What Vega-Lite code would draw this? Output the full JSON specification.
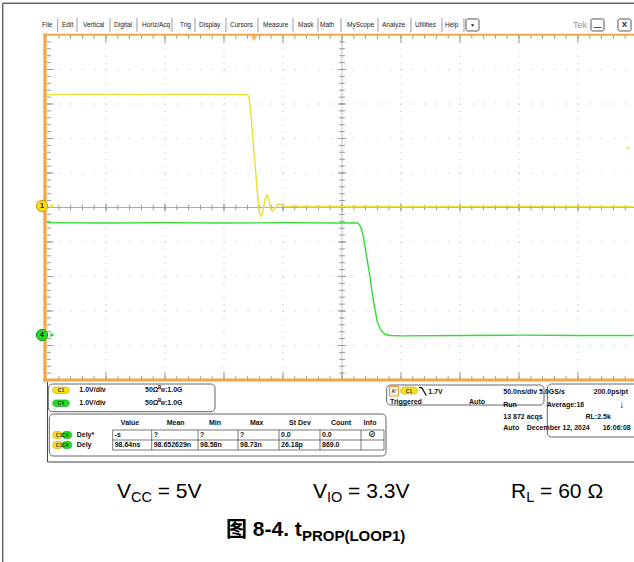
{
"$schema": "https://vega.github.io/schema/vega-lite/v6.json",
"width": 634, "height": 562, "padding": 0, "autosize": {"type": "none"},
"background": "white",
"config": {"view": {"stroke": null}, "text": {"font": "Liberation Sans, Noto Sans CJK SC"}},
"datasets": {
"tminor": [{"t":10},{"t":20},{"t":30},{"t":40},{"t":50},{"t":60},{"t":70},{"t":80},{"t":90},{"t":100},{"t":110},{"t":120},{"t":130},{"t":140},{"t":150},{"t":160},{"t":170},{"t":180},{"t":190},{"t":200},{"t":210},{"t":220},{"t":230},{"t":240},{"t":250},{"t":260},{"t":270},{"t":280},{"t":290},{"t":300},{"t":310},{"t":320},{"t":330},{"t":340},{"t":350},{"t":360},{"t":370},{"t":380},{"t":390},{"t":400},{"t":410},{"t":420},{"t":430},{"t":440},{"t":450},{"t":460},{"t":470},{"t":480},{"t":490}],
"dminor": [{"d":-4.8},{"d":-4.6},{"d":-4.4},{"d":-4.2},{"d":-4},{"d":-3.8},{"d":-3.6},{"d":-3.4},{"d":-3.2},{"d":-3},{"d":-2.8},{"d":-2.6},{"d":-2.4},{"d":-2.2},{"d":-2},{"d":-1.8},{"d":-1.6},{"d":-1.4},{"d":-1.2},{"d":-1},{"d":-0.8},{"d":-0.6},{"d":-0.4},{"d":-0.2},{"d":0},{"d":0.2},{"d":0.4},{"d":0.6},{"d":0.8},{"d":1},{"d":1.2},{"d":1.4},{"d":1.6},{"d":1.8},{"d":2},{"d":2.2},{"d":2.4},{"d":2.6},{"d":2.8},{"d":3},{"d":3.2},{"d":3.4},{"d":3.6},{"d":3.8},{"d":4},{"d":4.2},{"d":4.4},{"d":4.6},{"d":4.8}],
"tmajor": [{"t":50},{"t":100},{"t":150},{"t":200},{"t":250},{"t":300},{"t":350},{"t":400},{"t":450}],
"dmajor": [{"d":-4},{"d":-3},{"d":-2},{"d":-1},{"d":1},{"d":2},{"d":3},{"d":4}],
"ch1": [{"t":0,"v":3.27},{"t":40,"v":3.28},{"t":80,"v":3.27},{"t":120,"v":3.28},{"t":160,"v":3.27},{"t":169.5,"v":3.27},{"t":171,"v":3.22},{"t":171.8,"v":3.05},{"t":172.8,"v":2.7},{"t":174.5,"v":2.0},{"t":176.2,"v":1.3},{"t":177.8,"v":0.65},{"t":179.1,"v":0.1},{"t":180.2,"v":-0.17},{"t":181.3,"v":-0.26},{"t":182.3,"v":-0.2},{"t":183.5,"v":0.0},{"t":185,"v":0.26},{"t":186.6,"v":0.36},{"t":188,"v":0.24},{"t":189.2,"v":0.03},{"t":190.4,"v":-0.09},{"t":191.8,"v":-0.08},{"t":193.5,"v":0.0},{"t":195.5,"v":0.08},{"t":197.5,"v":0.1},{"t":199.5,"v":0.06},{"t":202,"v":0.02},{"t":206,"v":0.03},{"t":210,"v":0.05},{"t":214,"v":0.02},{"t":230,"v":0.03},{"t":300,"v":0.02},{"t":400,"v":0.03},{"t":497,"v":0.02}],
"ch4": [{"t":0,"v":3.27},{"t":50,"v":3.26},{"t":100,"v":3.27},{"t":150,"v":3.26},{"t":200,"v":3.27},{"t":250,"v":3.26},{"t":262.5,"v":3.26},{"t":263.8,"v":3.25},{"t":265.8,"v":3.15},{"t":267.5,"v":2.96},{"t":269.5,"v":2.57},{"t":271.4,"v":2.19},{"t":273.7,"v":1.7},{"t":275.7,"v":1.22},{"t":278.0,"v":0.74},{"t":279.9,"v":0.4},{"t":282.8,"v":0.16},{"t":286.4,"v":0.035},{"t":290.7,"v":0.0},{"t":300,"v":-0.01},{"t":350,"v":0.0},{"t":400,"v":0.01},{"t":450,"v":0.0},{"t":497,"v":0.0}],
"frame": [{"t":-37.54,"t2":497.46,"d":5.919,"d2":5.919},{"t":-37.54,"t2":-37.54,"d":5.919,"d2":-10.275}],
"menu": [{"label":"File","t":-4.24},{"label":"Edit","t":12.71},{"label":"Vertical","t":30.51},{"label":"Digital","t":56.78},{"label":"Horiz/Acq","t":80.51},{"label":"Trig","t":112.71},{"label":"Display","t":128.81},{"label":"Cursors","t":155.08},{"label":"Measure","t":183.05},{"label":"Mask","t":212.71},{"label":"Math","t":231.36},{"label":"MyScope","t":254.24},{"label":"Analyze","t":283.9},{"label":"Utilities","t":311.86},{"label":"Help","t":337.29}],
"seps": [{"t":9.07},{"t":25.42},{"t":53.39},{"t":76.27},{"t":105.93},{"t":125.42},{"t":151.69},{"t":178.81},{"t":208.47},{"t":229.66},{"t":249.15},{"t":280.51},{"t":308.47},{"t":334.75},{"t":353.39}],
"btns": [{"t":355.08,"t2":366.1},{"t":461.02,"t2":472.03},{"t":483.9,"t2":494.92}],
"btntext": [{"label":"▼","t":360.59,"d":5.29,"s":"a"},{"label":"—","t":466.52,"d":5.24,"s":"b"},{"label":"X","t":489.41,"d":5.29,"s":"b"}],
"chmark": [{"ch":"C1","t":-4.24,"d":0.043,"label":"1"},{"ch":"C4","t":-4.24,"d":-3.696,"label":"4"}],
"chlevel": [{"ch":"C1","t":4.5,"d":0.043},{"ch":"C4","t":4.5,"d":-3.696}],
"boxes": [{"t":1.1,"t2":142.37,"d":-5.116,"d2":-5.919},{"t":1.95,"t2":287.29,"d":-5.986,"d2":-7.203},{"t":287.88,"t2":421.19,"d":-5.145,"d2":-5.725},{"t":424.0,"t2":502,"d":-5.116,"d2":-6.652}],
"pills": [{"ch":"C1","t":4.83,"t2":18.9,"d":-5.203,"d2":-5.391},{"ch":"C4","t":4.83,"t2":18.9,"d":-5.58,"d2":-5.768},{"ch":"C1","t":4.83,"t2":12.88,"d":-6.493,"d2":-6.696},{"ch":"C4","t":12.88,"t2":20.93,"d":-6.493,"d2":-6.696},{"ch":"C1","t":4.83,"t2":12.88,"d":-6.783,"d2":-6.986},{"ch":"C4","t":12.88,"t2":20.93,"d":-6.783,"d2":-6.986},{"ch":"C1","t":299.75,"t2":313.81,"d":-5.203,"d2":-5.406}],
"pilltext": [{"label":"C1","t":11.86,"d":-5.299},{"label":"C4","t":11.86,"d":-5.675},{"label":"C1C4","t":12.88,"d":-6.594},{"label":"C1C4","t":12.88,"d":-6.884},{"label":"C1","t":306.78,"d":-5.305},{"label":"A'","t":294.07,"d":-5.326}],
"edgeicon": [{"t":315.25,"d":-5.22},{"t":317.6,"d":-5.22},{"t":321.4,"d":-5.45}],
"tabh": [{"t":55.68,"t2":285.6,"d":-6.449},{"t":55.68,"t2":285.6,"d":-6.739},{"t":55.68,"t2":285.6,"d":-7.029}],
"tabv": [{"t":55.68},{"t":88.73},{"t":128.0},{"t":161.86},{"t":196.61},{"t":231.36},{"t":266.1},{"t":285.6}],
"ptext": [{"label":"1.0V/div","t":27.37,"d":-5.299},{"label":"1.0V/div","t":27.37,"d":-5.675},{"label":"50Ω","t":83.05,"d":-5.299},{"label":"50Ω","t":83.05,"d":-5.675},{"label":":1.0G","t":100.0,"d":-5.299},{"label":":1.0G","t":100.0,"d":-5.675},{"label":"Dely*","t":25.17,"d":-6.594},{"label":"Dely","t":25.17,"d":-6.884},{"label":"-s","t":57.37,"d":-6.594},{"label":"?","t":90.42,"d":-6.594},{"label":"?","t":129.66,"d":-6.594},{"label":"?","t":163.56,"d":-6.594},{"label":"0.0","t":198.31,"d":-6.594},{"label":"0.0","t":233.05,"d":-6.594},{"label":"98.64ns","t":57.37,"d":-6.884},{"label":"98.652629n","t":90.42,"d":-6.884},{"label":"98.58n","t":129.66,"d":-6.884},{"label":"98.73n","t":163.56,"d":-6.884},{"label":"26.18p","t":198.31,"d":-6.884},{"label":"869.0","t":233.05,"d":-6.884},{"label":"1.7V","t":323.14,"d":-5.339},{"label":"Triggered","t":290.68,"d":-5.629},{"label":"50.0ns/div  5.0GS/s","t":386.69,"d":-5.339},{"label":"Run","t":386.69,"d":-5.725},{"label":"Average:16","t":423.47,"d":-5.725},{"label":"13 872 acqs","t":386.69,"d":-6.064},{"label":"RL:2.5k","t":456.36,"d":-6.064},{"label":"Auto","t":386.69,"d":-6.4},{"label":"December 12, 2024","t":406.53,"d":-6.4}],
"bwtext": [{"label":"B","t":94.07,"d":-5.24},{"label":"W","t":96.3,"d":-5.33},{"label":"B","t":94.07,"d":-5.616},{"label":"W","t":96.3,"d":-5.706}],
"ptextr": [{"label":"Auto","t":371.19,"d":-5.629},{"label":"200.0ps/pt","t":492.37,"d":-5.339},{"label":"16:06:08","t":494.66,"d":-6.4}],
"ptextc": [{"label":"Value","t":70.34},{"label":"Mean","t":109.07},{"label":"Min","t":142.37},{"label":"Max","t":177.71},{"label":"St Dev","t":214.41},{"label":"Count","t":249.15},{"label":"Info","t":273.73}],
"capmain": [{"label":"V","t":59.32},{"label":"= 5V","t":93.81},{"label":"V","t":225.42},{"label":"= 3.3V","t":255.17},{"label":"R","t":393.22},{"label":"= 60 Ω","t":417.88}],
"capsub": [{"label":"CC","t":71.19},{"label":"IO","t":237.29},{"label":"L","t":406.1}]
},
"layer": [
{"layer": [
{"data":{"name":"frame"},"mark":{"type":"rule","color":"#666666","strokeWidth":1.5},
 "encoding":{"x":{"field":"t","type":"quantitative","scale":{"domain":[-39.83,497.46],"nice":false,"zero":false},"axis":null},"x2":{"field":"t2"},
 "y":{"field":"d","type":"quantitative","scale":{"domain":[-10.275,6.014],"nice":false,"zero":false},"axis":null},"y2":{"field":"d2"}}},
{"data":{"name":"tmajor"},"mark":{"type":"rule","color":"#bdbdbd","strokeWidth":1,"strokeDash":[1,5.9]},
 "encoding":{"x":{"field":"t","type":"quantitative"},"y":{"datum":5,"type":"quantitative"},"y2":{"datum":-5}}},
{"data":{"name":"dmajor"},"mark":{"type":"rule","color":"#bdbdbd","strokeWidth":1,"strokeDash":[1,10.8]},
 "encoding":{"y":{"field":"d","type":"quantitative"},"x":{"datum":0,"type":"quantitative"},"x2":{"datum":500}}},
{"data":{"values":[{}]},"mark":{"type":"rule","color":"#aaaaaa","strokeWidth":1},
 "encoding":{"y":{"datum":0,"type":"quantitative"},"x":{"datum":0,"type":"quantitative"},"x2":{"datum":500}}},
{"data":{"values":[{}]},"mark":{"type":"rule","color":"#c4c4c4","strokeWidth":1},
 "encoding":{"x":{"datum":250,"type":"quantitative"},"y":{"datum":5,"type":"quantitative"},"y2":{"datum":-5}}},
{"data":{"name":"tminor"},"mark":{"type":"rule","color":"#999999","strokeWidth":1},
 "encoding":{"x":{"field":"t","type":"quantitative"},"y":{"datum":5,"type":"quantitative"},"y2":{"datum":4.89}}},
{"data":{"name":"tminor"},"mark":{"type":"rule","color":"#999999","strokeWidth":1},
 "encoding":{"x":{"field":"t","type":"quantitative"},"y":{"datum":-5,"type":"quantitative"},"y2":{"datum":-4.89}}},
{"data":{"name":"tminor"},"mark":{"type":"rule","color":"#999999","strokeWidth":1},
 "encoding":{"x":{"field":"t","type":"quantitative"},"y":{"datum":0.075,"type":"quantitative"},"y2":{"datum":-0.075}}},
{"data":{"name":"tmajor"},"mark":{"type":"rule","color":"#999999","strokeWidth":1},
 "encoding":{"x":{"field":"t","type":"quantitative"},"y":{"datum":5,"type":"quantitative"},"y2":{"datum":4.77}}},
{"data":{"name":"tmajor"},"mark":{"type":"rule","color":"#999999","strokeWidth":1},
 "encoding":{"x":{"field":"t","type":"quantitative"},"y":{"datum":-5,"type":"quantitative"},"y2":{"datum":-4.77}}},
{"data":{"name":"tmajor"},"mark":{"type":"rule","color":"#999999","strokeWidth":1},
 "encoding":{"x":{"field":"t","type":"quantitative"},"y":{"datum":0.12,"type":"quantitative"},"y2":{"datum":-0.12}}},
{"data":{"name":"dminor"},"mark":{"type":"rule","color":"#999999","strokeWidth":1},
 "encoding":{"y":{"field":"d","type":"quantitative"},"x":{"datum":0,"type":"quantitative"},"x2":{"datum":3.4}}},
{"data":{"name":"dminor"},"mark":{"type":"rule","color":"#999999","strokeWidth":1},
 "encoding":{"y":{"field":"d","type":"quantitative"},"x":{"datum":247.5,"type":"quantitative"},"x2":{"datum":252.5}}},
{"data":{"name":"dmajor"},"mark":{"type":"rule","color":"#999999","strokeWidth":1},
 "encoding":{"y":{"field":"d","type":"quantitative"},"x":{"datum":0,"type":"quantitative"},"x2":{"datum":5.5}}},
{"data":{"name":"dmajor"},"mark":{"type":"rule","color":"#999999","strokeWidth":1},
 "encoding":{"y":{"field":"d","type":"quantitative"},"x":{"datum":246.5,"type":"quantitative"},"x2":{"datum":253.5}}},
{"data":{"name":"ch1"},"mark":{"type":"line","color":"#E8DF30","strokeWidth":1.4},
 "encoding":{"x":{"field":"t","type":"quantitative"},"y":{"field":"v","type":"quantitative"}}},
{"data":{"values":[{}]},"mark":{"type":"rule","color":"#F4A546","strokeWidth":2},
 "encoding":{"y":{"datum":5.01,"type":"quantitative"},"x":{"datum":-3,"type":"quantitative"},"x2":{"datum":497.46}}},
{"data":{"values":[{}]},"mark":{"type":"rule","color":"#F4A546","strokeWidth":3.3},
 "encoding":{"x":{"datum":-1.69,"type":"quantitative"},"y":{"datum":5.04,"type":"quantitative"},"y2":{"datum":-5.05}}},
{"data":{"values":[{}]},"mark":{"type":"rule","color":"#F4A546","strokeWidth":3},
 "encoding":{"y":{"datum":-5.0,"type":"quantitative"},"x":{"datum":-3,"type":"quantitative"},"x2":{"datum":497.46}}},
{"data":{"values":[{}]},"mark":{"type":"point","shape":"triangle-down","filled":true,"color":"#F29A1E","size":40},
 "encoding":{"x":{"datum":175.42,"type":"quantitative"},"y":{"datum":4.9,"type":"quantitative"}}},
{"data":{"values":[{}]},"mark":{"type":"point","shape":"circle","filled":true,"color":"#E8DF30","size":10},
 "encoding":{"x":{"datum":492.37,"type":"quantitative"},"y":{"datum":1.725,"type":"quantitative"}}},
{"data":{"name":"chlevel"},"mark":{"type":"point","shape":"triangle-right","filled":true,"size":22,"opacity":1},
 "encoding":{"x":{"field":"t","type":"quantitative"},"y":{"field":"d","type":"quantitative"},
 "color":{"field":"ch","type":"nominal","scale":{"domain":["C1","C4"],"range":["#F2E21A","#22DD22"]},"legend":null}}},
{"data":{"name":"chmark"},"mark":{"type":"point","shape":"circle","filled":true,"size":125,"strokeWidth":1,"opacity":1},
 "encoding":{"x":{"field":"t","type":"quantitative"},"y":{"field":"d","type":"quantitative"},
 "fill":{"field":"ch","type":"nominal","scale":{"domain":["C1","C4"],"range":["#F5E21A","#22DD22"]},"legend":null},
 "stroke":{"field":"ch","type":"nominal","scale":{"domain":["C1","C4"],"range":["#D49A00","#119911"]},"legend":null}}},
{"data":{"name":"chmark"},"mark":{"type":"text","fontSize":7,"fontWeight":"bold","color":"#222222","align":"center","baseline":"middle"},
 "encoding":{"x":{"field":"t","type":"quantitative"},"y":{"field":"d","type":"quantitative"},"text":{"field":"label"}}},
{"data":{"name":"menu"},"mark":{"type":"text","fontSize":6.5,"color":"#222222","align":"left","baseline":"middle"},
 "encoding":{"x":{"field":"t","type":"quantitative"},"y":{"datum":5.29,"type":"quantitative"},"text":{"field":"label"}}},
{"data":{"name":"seps"},"mark":{"type":"rule","color":"#9a9aa8","strokeWidth":1},
 "encoding":{"x":{"field":"t","type":"quantitative"},"y":{"datum":5.493,"type":"quantitative"},"y2":{"datum":5.087}}},
{"data":{"name":"btns"},"mark":{"type":"rect","fill":"white","stroke":"#555555","strokeWidth":1,"cornerRadius":1.5},
 "encoding":{"x":{"field":"t","type":"quantitative"},"x2":{"field":"t2"},"y":{"datum":5.464,"type":"quantitative"},"y2":{"datum":5.116}}},
{"data":{"name":"btntext"},"mark":{"type":"text","color":"#222222","align":"center","baseline":"middle","fontWeight":"bold"},
 "encoding":{"x":{"field":"t","type":"quantitative"},"y":{"field":"d","type":"quantitative"},"text":{"field":"label"},
 "size":{"field":"s","type":"nominal","scale":{"domain":["a","b"],"range":[5,8]},"legend":null}}},
{"data":{"values":[{"label":"Tek","t":445.76}]},"mark":{"type":"text","fontSize":9,"color":"#999999","align":"left","baseline":"middle"},
 "encoding":{"x":{"field":"t","type":"quantitative"},"y":{"datum":5.29,"type":"quantitative"},"text":{"field":"label"}}},
{"data":{"values":[{}]},"mark":{"type":"rule","color":"#444444","strokeWidth":1},
 "encoding":{"x":{"datum":0.42,"type":"quantitative"},"y":{"datum":-5.058,"type":"quantitative"},"y2":{"datum":-7.377}}},
{"data":{"values":[{}]},"mark":{"type":"rule","color":"#444444","strokeWidth":1},
 "encoding":{"y":{"datum":-7.377,"type":"quantitative"},"x":{"datum":0.42,"type":"quantitative"},"x2":{"datum":497.46}}},
{"data":{"name":"boxes"},"mark":{"type":"rect","fill":"white","stroke":"#666666","strokeWidth":1,"cornerRadius":4},
 "encoding":{"x":{"field":"t","type":"quantitative"},"x2":{"field":"t2"},"y":{"field":"d","type":"quantitative"},"y2":{"field":"d2"}}},
{"data":{"name":"pills"},"mark":{"type":"rect","cornerRadius":3,"strokeWidth":0.6},
 "encoding":{"x":{"field":"t","type":"quantitative"},"x2":{"field":"t2"},"y":{"field":"d","type":"quantitative"},"y2":{"field":"d2"},
 "fill":{"field":"ch","type":"nominal","scale":{"domain":["C1","C4"],"range":["#E6E21A","#22D422"]},"legend":null},
 "stroke":{"field":"ch","type":"nominal","scale":{"domain":["C1","C4"],"range":["#8A8800","#117711"]},"legend":null}}},
{"data":{"values":[{}]},"mark":{"type":"rect","fill":"#FFF4DC","stroke":"#E89B2A","strokeWidth":1},
 "encoding":{"x":{"datum":290.25,"type":"quantitative"},"x2":{"datum":297.88},"y":{"datum":-5.188,"type":"quantitative"},"y2":{"datum":-5.464}}},
{"data":{"name":"pilltext"},"mark":{"type":"text","fontSize":5,"fontWeight":"bold","color":"#333333","align":"center","baseline":"middle"},
 "encoding":{"x":{"field":"t","type":"quantitative"},"y":{"field":"d","type":"quantitative"},"text":{"field":"label"}}},
{"data":{"name":"edgeicon"},"mark":{"type":"line","color":"#111111","strokeWidth":1.3},
 "encoding":{"x":{"field":"t","type":"quantitative"},"y":{"field":"d","type":"quantitative"}}},
{"data":{"name":"tabh"},"mark":{"type":"rule","color":"#555555","strokeWidth":0.8},
 "encoding":{"x":{"field":"t","type":"quantitative"},"x2":{"field":"t2"},"y":{"field":"d","type":"quantitative"}}},
{"data":{"name":"tabv"},"mark":{"type":"rule","color":"#555555","strokeWidth":0.8},
 "encoding":{"x":{"field":"t","type":"quantitative"},"y":{"datum":-6.449,"type":"quantitative"},"y2":{"datum":-7.029}}},
{"data":{"name":"ptext"},"mark":{"type":"text","fontSize":7,"fontWeight":"bold","color":"#111111","align":"left","baseline":"middle"},
 "encoding":{"x":{"field":"t","type":"quantitative"},"y":{"field":"d","type":"quantitative"},"text":{"field":"label"}}},
{"data":{"name":"bwtext"},"mark":{"type":"text","fontSize":4.5,"fontWeight":"bold","color":"#111111","align":"left","baseline":"middle"},
 "encoding":{"x":{"field":"t","type":"quantitative"},"y":{"field":"d","type":"quantitative"},"text":{"field":"label"}}},
{"data":{"name":"ptextr"},"mark":{"type":"text","fontSize":7,"fontWeight":"bold","color":"#111111","align":"right","baseline":"middle"},
 "encoding":{"x":{"field":"t","type":"quantitative"},"y":{"field":"d","type":"quantitative"},"text":{"field":"label"}}},
{"data":{"name":"ptextc"},"mark":{"type":"text","fontSize":7,"fontWeight":"bold","color":"#111111","align":"center","baseline":"middle"},
 "encoding":{"x":{"field":"t","type":"quantitative"},"y":{"datum":-6.238,"type":"quantitative"},"text":{"field":"label"}}},
{"data":{"values":[{"label":"⊘","t":275.42,"d":-6.594}]},"mark":{"type":"text","fontSize":8,"fontWeight":"bold","color":"#111111","align":"center","baseline":"middle"},
 "encoding":{"x":{"field":"t","type":"quantitative"},"y":{"field":"d","type":"quantitative"},"text":{"field":"label"}}},
{"data":{"values":[{"label":"↓","t":487.03,"d":-5.725}]},"mark":{"type":"text","fontSize":10,"fontWeight":"bold","color":"#111111","align":"center","baseline":"middle"},
 "encoding":{"x":{"field":"t","type":"quantitative"},"y":{"field":"d","type":"quantitative"},"text":{"field":"label"}}},
{"data":{"name":"capmain"},"mark":{"type":"text","fontSize":21,"color":"#000000","align":"left","baseline":"middle"},
 "encoding":{"x":{"field":"t","type":"quantitative"},"y":{"datum":-8.246,"type":"quantitative"},"text":{"field":"label"}}},
{"data":{"name":"capsub"},"mark":{"type":"text","fontSize":14.5,"color":"#000000","align":"left","baseline":"middle"},
 "encoding":{"x":{"field":"t","type":"quantitative"},"y":{"datum":-8.42,"type":"quantitative"},"text":{"field":"label"}}},
{"data":{"values":[{"label":"图 8-4. t","t":151.69}]},"mark":{"type":"text","fontSize":21,"fontWeight":"bold","color":"#000000","align":"left","baseline":"middle"},
 "encoding":{"x":{"field":"t","type":"quantitative"},"y":{"datum":-9.348,"type":"quantitative"},"text":{"field":"label"}}},
{"data":{"values":[{"label":"PROP(LOOP1)","t":216.02}]},"mark":{"type":"text","fontSize":15,"fontWeight":"bold","color":"#000000","align":"left","baseline":"middle"},
 "encoding":{"x":{"field":"t","type":"quantitative"},"y":{"datum":-9.522,"type":"quantitative"},"text":{"field":"label"}}}
]},
{"data":{"name":"ch4"},"mark":{"type":"line","color":"#33DD33","strokeWidth":1.4},
 "encoding":{"x":{"field":"t","type":"quantitative"},"y":{"field":"v","type":"quantitative","scale":{"domain":[-6.565,9.724],"nice":false,"zero":false},"axis":null}}}
],
"resolve": {"scale": {"y": "independent"}}
}
